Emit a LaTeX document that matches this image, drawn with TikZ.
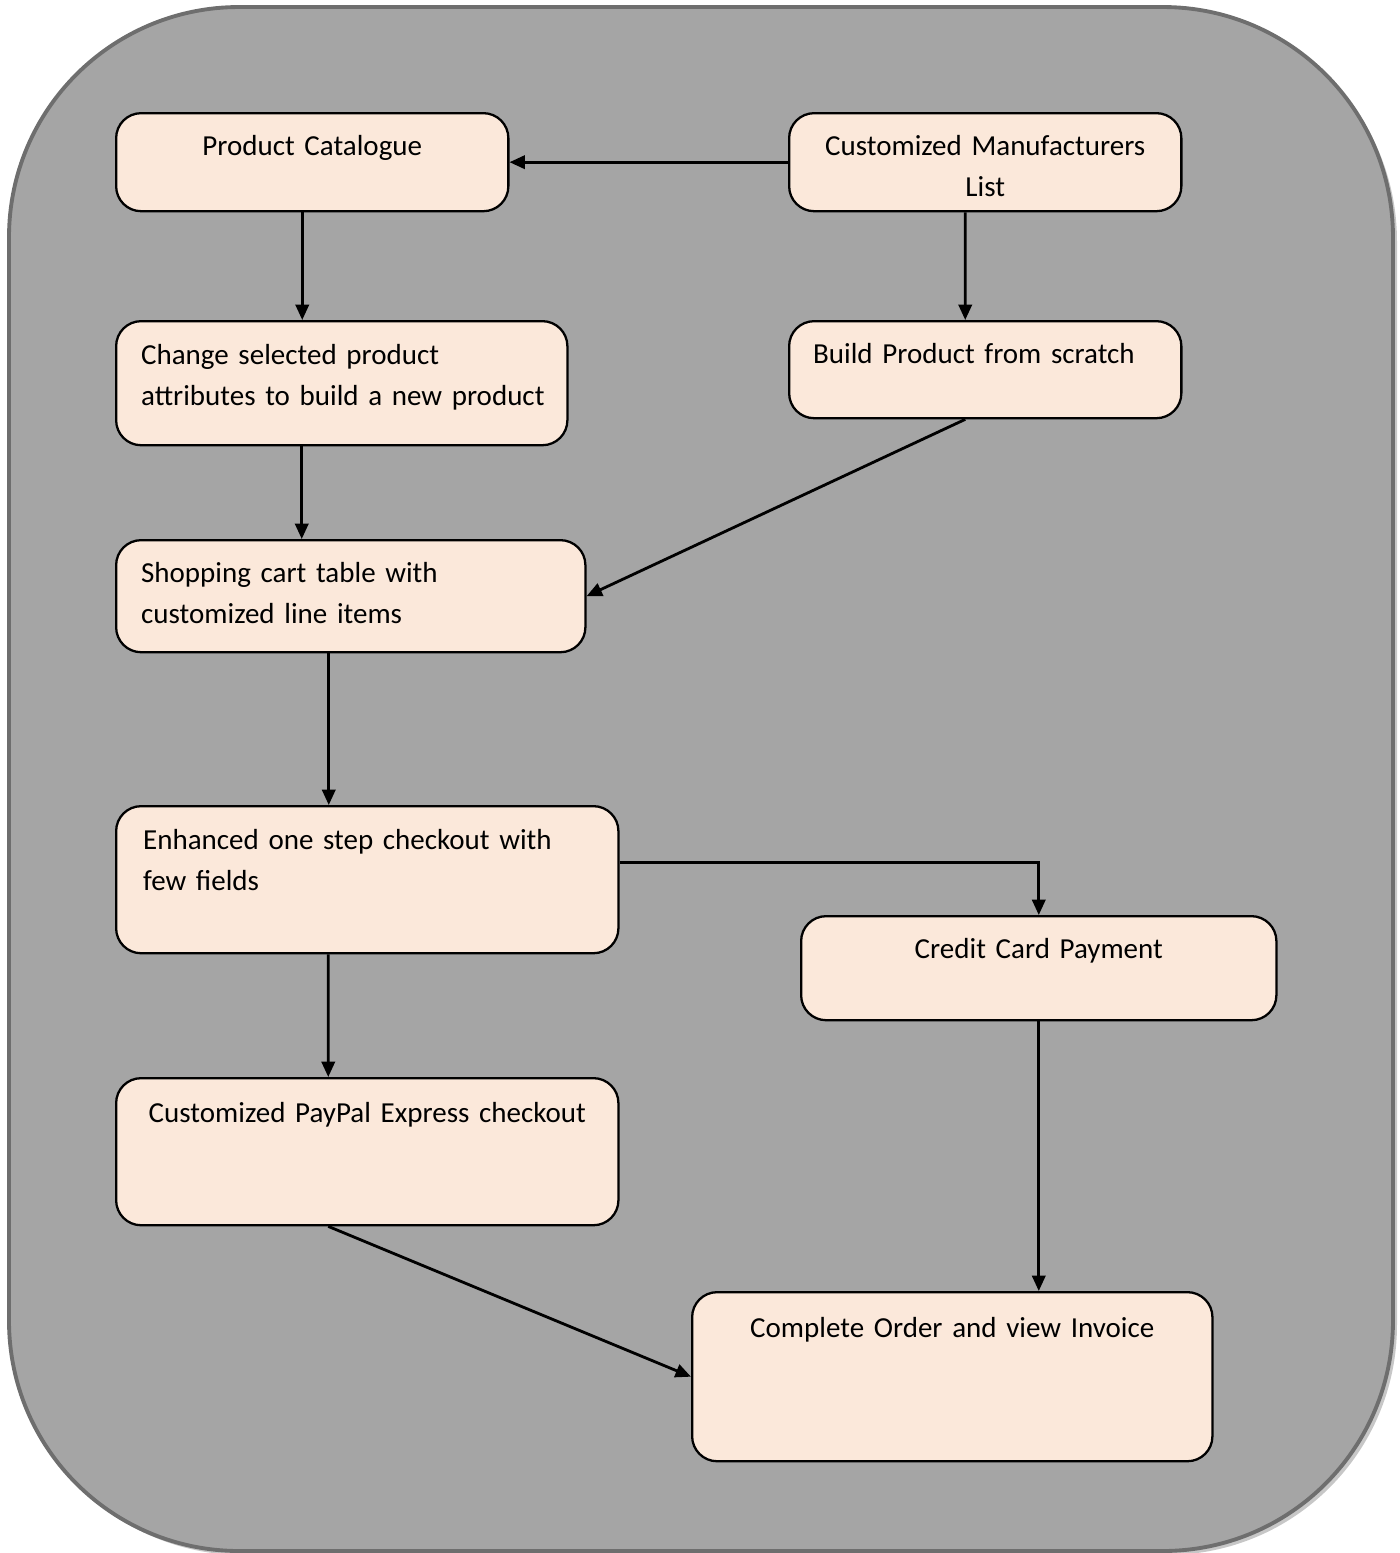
\documentclass[tikz,border=0pt]{standalone}
\usepackage{fontspec}
\setmainfont{Carlito}
\usetikzlibrary{arrows.meta,calc}
\definecolor{peach}{RGB}{251,232,218}
\definecolor{panel}{RGB}{165,165,165}
\definecolor{panelline}{RGB}{110,110,110}
\tikzset{
  stepbox/.style={draw=black, line width=0.65pt, fill=peach, rounded corners=0.25cm,
    anchor=north west, inner sep=0pt, font=\fontsize{8.25}{11.7}\selectfont},
  leftbox/.style={stepbox, align=left, inner xsep=0.25cm},
  midbox/.style={stepbox, align=center},
  arr/.style={line width=0.8pt, -{Triangle[length=4.4pt,width=3.8pt]}}
}
\begin{document}
\begin{tikzpicture}[x=0.01cm,y=-0.01cm]
    \useasboundingbox (0,0) rectangle (1400,1553);
    \fill[black!22, rounded corners=2.3cm] (13,11) rectangle (1397,1555);
    \draw[panelline, fill=panel, line width=1.1pt, rounded corners=2.3cm] (9,7) rectangle (1393,1551);
    \node[midbox, text width=3.92cm, text height=0.42cm, text depth=0.56cm] (pc) at (115,112) {Product Catalogue};
    \node[midbox, text width=3.92cm, text height=0.42cm, text depth=0.56cm] (cml) at (788,112) {Customized Manufacturers\\List};
    \node[leftbox, text width=4.01cm, text height=0.43cm, text depth=0.81cm] (chg) at (115,320) {\mbox{Change selected product}\\\mbox{attributes to build a new product}};
    \node[leftbox, inner xsep=0.24cm, text width=3.44cm, text height=0.42cm, text depth=0.55cm] (bld) at (788,320) {Build Product from scratch};
    \node[leftbox, text width=4.19cm, text height=0.42cm, text depth=0.70cm] (shop) at (115,539) {Shopping cart table with\\customized line items};
    \node[leftbox, inner xsep=0.27cm, text width=4.48cm, text height=0.43cm, text depth=1.04cm] (enh) at (115,805) {Enhanced one step checkout with\\few fields};
    \node[midbox, text width=4.75cm, text height=0.42cm, text depth=0.62cm] (cred) at (800,915) {Credit Card Payment};
    \node[midbox, text width=5.02cm, text height=0.44cm, text depth=1.03cm] (pp) at (115,1077) {Customized PayPal Express checkout};
    \node[midbox, text width=5.20cm, text height=0.45cm, text depth=1.24cm] (cmp) at (691,1291) {Complete Order and view Invoice};
    \draw[arr] (cml.west) -- (pc.east);
    \draw[arr] ([xshift=-0.1cm]pc.south) -- ([xshift=-0.1cm]pc.south |- chg.north);
    \draw[arr] ([xshift=-0.2cm]cml.south) -- ([xshift=-0.2cm]bld.north);
    \draw[arr] ([xshift=-0.4cm]chg.south) -- ([xshift=-0.4cm]chg.south |- shop.north);
    \draw[arr] ([xshift=-0.2cm]bld.south) -- (shop.east);
    \draw[arr] ([xshift=-0.22cm]shop.south) -- ([xshift=-0.22cm]shop.south |- enh.north);
    \draw[arr] ([yshift=0.17cm]enh.east) -| (cred.north);
    \draw[arr] ([xshift=-0.39cm]enh.south) -- ([xshift=-0.39cm]pp.north);
    \draw[arr] ([xshift=-0.39cm]pp.south) -- (cmp.west);
    \draw[arr] (cred.south) -- (cred.south |- cmp.north);
\end{tikzpicture}
\end{document}
